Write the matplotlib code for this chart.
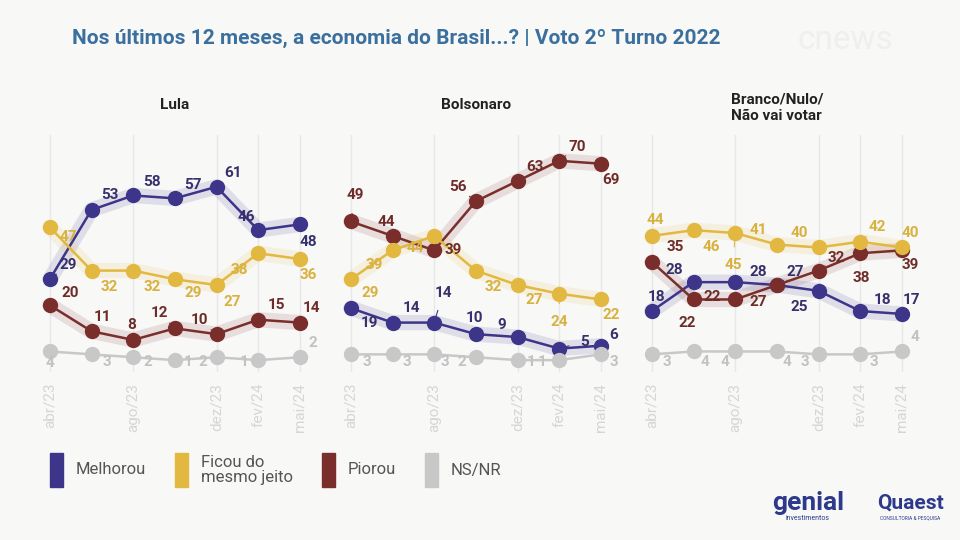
import matplotlib.pyplot as plt
from matplotlib.patches import Rectangle

plt.rcParams['font.family'] = ['Roboto', 'DejaVu Sans']

# survey waves (equally spaced in the original chart)
months = ['abr/23', 'jun/23', 'ago/23', 'out/23', 'dez/23', 'fev/24', 'mai/24']
shown_months = ['abr/23', 'ago/23', 'dez/23', 'fev/24', 'mai/24']
series_names = ['Melhorou', 'Ficou do\nmesmo jeito', 'Piorou', 'NS/NR']

lula_melhorou = [29, 53, 58, 57, 61, 46, 48]
lula_ficou = [47, 32, 32, 29, 27, 38, 36]
lula_piorou = [20, 11, 8, 12, 10, 15, 14]
lula_nsnr = [4, 3, 2, 1, 2, 1, 2]

bolso_melhorou = [19, 14, 14, 10, 9, 5, 6]
bolso_ficou = [29, 39, 44, 32, 27, 24, 22]
bolso_piorou = [49, 44, 39, 56, 63, 70, 69]
bolso_nsnr = [3, 3, 3, 2, 1, 1, 3]

branco_melhorou = [18, 28, 28, 27, 25, 18, 17]
branco_ficou = [44, 46, 45, 41, 40, 42, 40]
branco_piorou = [35, 22, 22, 27, 32, 38, 39]
branco_nsnr = [3, 4, 4, 4, 3, 3, 4]

line_colors = ['#3d3589', '#e2b840', '#7a2e2c', '#c8c8c8']
text_colors = ['#36306c', '#d8b13f', '#6e2c29', '#c2c2c2']

# label offsets in pixels (dx right, dy down) for each panel / series
lula_offsets = [
    [(18, -14), (18, -15), (19, -13), (18, -13), (16, -14), (-12, -13), (8, 18)],
    [(18, 10), (18, 16), (19, 16), (18, 14), (16, 17), (-19, 17), (8, 16)],
    [(20, -12), (11, -14), (-1, -15), (-15, -15), (-17, -14), (18, -15), (12, -15)],
    [(0, 12), (15, 8), (15, 5), (13, 2), (-14, 5), (-14, 2), (13, -14)],
]
bolso_offsets = [
    [(19, 15), (19, -15), (9, -30), (-1, -16), (-16, -12), (25, -7), (13, -11)],
    [(19, 14), (-18, 15), (-19, 12), (17, 16), (17, 15), (0, 28), (10, 16)],
    [(4, -26), (-6, -14), (19, 0), (-18, -14), (17, -14), (18, -14), (10, 16)],
    [(16, 8), (14, 8), (11, 8), (-14, 5), (14, 2), (-17, 2), (13, 8)],
]
branco_offsets = [
    [(5, -14), (-19, -12), (23, -10), (18, -13), (-19, 16), (22, -11), (10, -14)],
    [(3, -16), (18, 17), (-2, 32), (-19, -15), (-19, -14), (17, -15), (8, -14)],
    [(23, -15), (-6, 24), (-23, -2), (-19, 17), (18, -13), (1, 25), (8, 15)],
    [(15, 8), (11, 11), (-10, 11), (10, 11), (-14, 8), (14, 8), (13, -14)],
]

panels = [
    ('Lula', [lula_melhorou, lula_ficou, lula_piorou, lula_nsnr], lula_offsets, 29),
    ('Bolsonaro', [bolso_melhorou, bolso_ficou, bolso_piorou, bolso_nsnr], bolso_offsets, 330),
    ('Branco/Nulo/\nNão vai votar', [branco_melhorou, branco_ficou, branco_piorou, branco_nsnr],
     branco_offsets, 631),
]

W, H = 960, 540
fig = plt.figure(figsize=(9.6, 5.4), dpi=100)
fig.patch.set_facecolor('#f8f8f7')

x = list(range(len(months)))
ax_bottom, ax_h, ax_w = 371.7, 236.9, 291.7

for title, data, offsets, left in panels:
    ax = fig.add_axes([left / W, 1 - ax_bottom / H, ax_w / W, ax_h / H])
    ax.set_facecolor('none')
    ax.set_xlim(-0.5, 6.5)
    ax.set_ylim(-3, 79)
    for s in ax.spines.values():
        s.set_visible(False)
    ax.set_yticks([])
    ticks = [months.index(m) for m in shown_months]
    ax.set_xticks(ticks)
    ax.set_xticklabels(shown_months, rotation=90, color='#d6d6d6', fontsize=11)
    ax.tick_params(axis='x', length=0, pad=8)
    for t in ticks:
        ax.axvline(t, color='#e8e8e8', lw=1, zorder=0)

    for i, vals in enumerate(data):
        c = line_colors[i]
        if i < 3:
            ax.plot(x, vals, color=c, lw=11, alpha=0.13, solid_capstyle='round', zorder=1)
        ax.plot(x, vals, color=c, lw=1.8, marker='o', markersize=10, zorder=3 + i % 2)
        for j, v in enumerate(vals):
            dx, dy = offsets[i][j]
            arrow = None
            if abs(dx) + abs(dy) > 26:
                arrow = dict(arrowstyle='-', color=line_colors[i], lw=0.8, shrinkA=6, shrinkB=5)
            ax.annotate(str(v), (j, v), xytext=(dx, -dy), textcoords='offset pixels',
                        ha='center', va='center', fontsize=11, fontweight='bold',
                        color=text_colors[i], zorder=6, arrowprops=arrow)

    title_y = 1.0 + (135 - 105) / ax_h if '\n' not in title else 1.0 + (135 - 108) / ax_h
    ax.text(0.5, title_y, title, transform=ax.transAxes, ha='center', va='center',
            fontsize=11, fontweight='bold', color='#222222', linespacing=1.25)

# title
fig.text(72 / W, 1 - 38 / H,
         'Nos últimos 12 meses, a economia do Brasil...? | Voto 2º Turno 2022',
         ha='left', va='center', fontsize=15, fontweight='bold', color='#3a6f9e')

# watermark
fig.text(845 / W, 1 - 40 / H, 'cnews', ha='center', va='center', fontsize=24,
         color='#efefef')

# legend
legend_x = [50, 175, 322, 425]
for i, name in enumerate(series_names):
    fig.patches.append(Rectangle((legend_x[i] / W, 1 - 487 / H), 13 / W, 34 / H,
                                 transform=fig.transFigure, color=line_colors[i]))
    fig.text((legend_x[i] + 26) / W, 1 - 470 / H, name, ha='left', va='center',
             fontsize=12, color='#555555', linespacing=1.0)

# logos as text
fig.text(808 / W, 1 - 503 / H, 'genial', ha='center', va='center', fontsize=19,
         fontweight='bold', color='#2d3a8c')
fig.text(808 / W, 1 - 519 / H, 'investimentos', ha='center', va='center', fontsize=5,
         color='#2d3a8c')
fig.text(910 / W, 1 - 503 / H, 'Quaest', ha='center', va='center', fontsize=15,
         fontweight='bold', color='#2d3a8c')
fig.text(910 / W, 1 - 518 / H, 'CONSULTORIA & PESQUISA', ha='center', va='center',
         fontsize=3.5, color='#2d3a8c')

fig.savefig('out.png', dpi=100, facecolor=fig.get_facecolor())
